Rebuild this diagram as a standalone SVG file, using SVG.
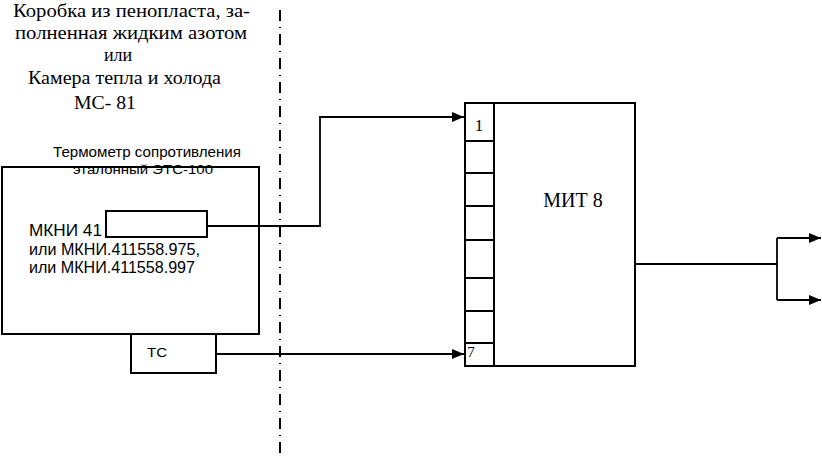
<svg xmlns="http://www.w3.org/2000/svg" width="822" height="458" viewBox="0 0 822 458">
<style>
.serif{font-family:"Liberation Serif","Times New Roman",serif;fill:#000}
.sans{font-family:"Liberation Sans",Arial,sans-serif;fill:#000}
.box{fill:#fff;stroke:#000;stroke-width:2}
.wire{fill:none;stroke:#000;stroke-width:1.8}
.div{stroke:#000;stroke-width:2}
</style>
<defs>
<marker id="ah" markerWidth="12" markerHeight="10" refX="12" refY="5" orient="auto" markerUnits="userSpaceOnUse">
<path d="M0,0 L12,5 L0,10 Z" fill="#000"/>
</marker>
</defs>
<rect width="822" height="458" fill="#fff"/>

<g id="header">
<text class="serif" x="13" y="17" font-size="18" textLength="237" lengthAdjust="spacingAndGlyphs">Коробка из пенопласта, за-</text>
<text class="serif" x="15" y="39" font-size="19" textLength="232" lengthAdjust="spacingAndGlyphs">полненная жидким азотом</text>
<text class="serif" x="118" y="61" font-size="18" text-anchor="middle">или</text>
<text class="serif" x="28" y="84" font-size="19" textLength="193" lengthAdjust="spacingAndGlyphs">Камера тепла и холода</text>
<text class="serif" x="74" y="109" font-size="19" textLength="62" lengthAdjust="spacingAndGlyphs">МС- 81</text>
</g>

<g id="boundary">
<line x1="280" y1="10" x2="280" y2="458" stroke="#000" stroke-width="2" stroke-dasharray="11 6 1 6"/>
</g>

<g id="chamber">
<rect class="box" x="2" y="167" width="257" height="167"/>
<text class="sans" x="53" y="157" font-size="14" textLength="188" lengthAdjust="spacingAndGlyphs">Термометр сопротивления</text>
<text class="sans" x="73" y="174" font-size="13" textLength="140" lengthAdjust="spacingAndGlyphs">эталонный ЭТС-100</text>
<text class="sans" x="29" y="236" font-size="16" textLength="73" lengthAdjust="spacingAndGlyphs">МКНИ 41</text>
<text class="sans" x="29" y="255" font-size="16" textLength="171" lengthAdjust="spacingAndGlyphs">или МКНИ.411558.975,</text>
<text class="sans" x="29" y="273" font-size="16" textLength="166" lengthAdjust="spacingAndGlyphs">или МКНИ.411558.997</text>
</g>

<g id="sensor">
<rect class="box" x="106" y="211" width="101" height="26" stroke-width="1.5"/>
</g>

<g id="tc">
<rect class="box" x="131" y="334" width="85" height="39"/>
<text class="sans" x="147" y="357" font-size="13" textLength="20" lengthAdjust="spacingAndGlyphs">ТС</text>
</g>

<g id="mit8">
<rect class="box" x="465" y="103" width="170" height="263"/>
<line class="div" x1="494" y1="103" x2="494" y2="366"/>
<line class="div" x1="465" y1="141" x2="494" y2="141"/>
<line class="div" x1="465" y1="173" x2="494" y2="173"/>
<line class="div" x1="465" y1="206" x2="494" y2="206"/>
<line class="div" x1="465" y1="240" x2="494" y2="240"/>
<line class="div" x1="465" y1="278" x2="494" y2="278"/>
<line class="div" x1="465" y1="311" x2="494" y2="311"/>
<line class="div" x1="465" y1="343" x2="494" y2="343"/>
<text class="serif" x="479" y="131" font-size="17" text-anchor="middle">1</text>
<text class="serif" x="471" y="357" font-size="15" text-anchor="middle">7</text>
<text class="serif" x="573" y="207" font-size="20" text-anchor="middle">МИТ 8</text>
</g>

<g id="connectors">
<polyline class="wire" points="207,226 320,226 320,117 464,117" marker-end="url(#ah)"/>
<polyline class="wire" points="216,354 464,354" marker-end="url(#ah)"/>
<polyline class="wire" points="635,264 777,264"/>
<polyline class="wire" points="777,238 777,300"/>
<polyline class="wire" points="777,238 821,238" marker-end="url(#ah)"/>
<polyline class="wire" points="777,300 821,300" marker-end="url(#ah)"/>
</g>
</svg>
